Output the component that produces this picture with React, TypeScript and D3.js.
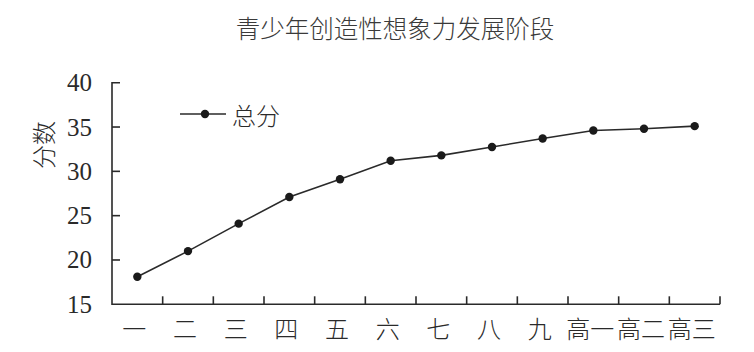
import React from "react";
import * as d3 from "d3";

const categories = ["一", "二", "三", "四", "五", "六", "七", "八", "九", "高一", "高二", "高三"];
const totalScores = [18.1, 21.0, 24.1, 27.1, 29.1, 31.2, 31.8, 32.75, 33.7, 34.6, 34.8, 35.1];
const yTicks = [15, 20, 25, 30, 35, 40];
const title = "青少年创造性想象力发展阶段";
const yLabel = "分数";
const seriesName = "总分";

const W = 754;
const H = 352;
const left = 112;
const right = 720;
const top = 82.7;
const bottom = 304.3;
const ink = "#2a2a2a";
const cjk = "'Noto Sans CJK SC', sans-serif";
const serif = "'Liberation Serif', 'DejaVu Serif', serif";

export default function App() {
  const x = d3.scaleBand<string>().domain(categories).range([left, right]).padding(0);
  const y = d3.scaleLinear().domain([15, 40]).range([bottom, top]);
  const cx = (c: string) => (x(c) as number) + x.bandwidth() / 2;
  const line = d3
    .line<number>()
    .x((_, i) => cx(categories[i]))
    .y((d) => y(d));

  return (
    <svg
      width={W}
      height={H}
      style={{ position: "absolute", left: 0, top: 0, background: "#fff" }}
    >
      <text
        x={395}
        y={27}
        textAnchor="middle"
        dominantBaseline="central"
        fontFamily={cjk}
        fontWeight={300}
        fontSize={24.5}
        fill="#3a3a3a"
      >
        {title}
      </text>

      {/* axes */}
      <path
        d={`M${left + 8},${top}H${left}V${bottom}H${right}`}
        fill="none"
        stroke={ink}
        strokeWidth={1.6}
      />
      {yTicks.slice(1, -1).map((t) => (
        <line key={t} x1={left} x2={left + 8} y1={y(t)} y2={y(t)} stroke={ink} strokeWidth={1.6} />
      ))}
      {categories.map((c) => {
        const bx = (x(c) as number) + x.bandwidth();
        return <line key={c} x1={bx} x2={bx} y1={bottom} y2={bottom - 8} stroke={ink} strokeWidth={1.6} />;
      })}

      {yTicks.map((t) => (
        <text
          key={t}
          x={92}
          y={y(t)}
          textAnchor="end"
          dominantBaseline="central"
          fontFamily={serif}
          fontSize={25}
          fill={ink}
        >
          {t}
        </text>
      ))}

      {categories.map((c) => (
        <text
          key={c}
          x={cx(c) - 3}
          y={327}
          textAnchor="middle"
          dominantBaseline="central"
          fontFamily={cjk}
          fontWeight={300}
          fontSize={24}
          fill={ink}
        >
          {c}
        </text>
      ))}

      <text
        transform={`translate(42,145) rotate(-90)`}
        textAnchor="middle"
        dominantBaseline="central"
        fontFamily={cjk}
        fontWeight={300}
        fontSize={24}
        fill={ink}
      >
        {yLabel}
      </text>

      {/* series */}
      <path d={line(totalScores) as string} fill="none" stroke={ink} strokeWidth={1.6} />
      {totalScores.map((v, i) => (
        <circle key={i} cx={cx(categories[i])} cy={y(v)} r={4.2} fill="#1a1a1a" />
      ))}

      {/* legend */}
      <line x1={180} x2={226} y1={114} y2={114} stroke={ink} strokeWidth={1.6} />
      <circle cx={205} cy={114} r={4.2} fill="#1a1a1a" />
      <text
        x={232}
        y={114}
        dominantBaseline="central"
        fontFamily={cjk}
        fontWeight={300}
        fontSize={24}
        fill={ink}
      >
        {seriesName}
      </text>
    </svg>
  );
}
